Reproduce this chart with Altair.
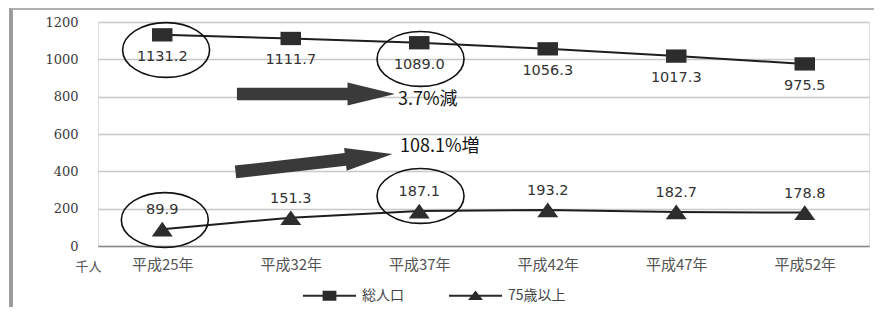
import altair as alt
import pandas as pd

categories = ["平成25年", "平成32年", "平成37年", "平成42年", "平成47年", "平成52年"]
total_pop = [1131.2, 1111.7, 1089.0, 1056.3, 1017.3, 975.5]
over75 = [89.9, 151.3, 187.1, 193.2, 182.7, 178.8]
series_names = ["総人口", "75歳以上"]
y_ticks = [0, 200, 400, 600, 800, 1000, 1200]
unit_label = "千人"

# annotations (circles, arrows, texts) in data coordinates
circle_idx = [0.03, 2.01, 0.02, 2.01]
circle_val = [1050, 1002, 139, 268]
arrow_idx = [1.196, 1.181]
arrow_val = [814, 445]
arrow_angle = [0, 353.5]
note_text = ["3.7%減", "108.1%増"]
note_idx = [1.835, 1.85]
note_val = [782, 530]

rows = []
for i, c in enumerate(categories):
    rows.append({"idx": i, "cat": c, "series": series_names[0], "value": total_pop[i]})
    rows.append({"idx": i, "cat": c, "series": series_names[1], "value": over75[i]})
df = pd.DataFrame(rows)

circles = pd.DataFrame({"idx": circle_idx, "value": circle_val})
arrows = pd.DataFrame({"idx": arrow_idx, "value": arrow_val, "angle": arrow_angle})
notes = pd.DataFrame({"idx": note_idx, "value": note_val, "text": note_text})

W, H = 771, 224
label_expr = "[" + ",".join("'" + c + "'" for c in categories) + "][datum.value]"

x_axis = alt.Axis(values=list(range(len(categories))), labelExpr=label_expr,
                  grid=False, ticks=False, domain=True, domainColor="#8a8a8a",
                  domainWidth=1.5, labelFont="Noto Sans CJK JP", labelFontSize=15,
                  labelColor="#555555", labelPadding=11, title=None)
y_axis = alt.Axis(values=y_ticks, tickCount=len(y_ticks), format="d", labelOverlap=False,
                  grid=True, gridColor="#c8c8c8", gridWidth=1.3,
                  domain=False, ticks=False, labelFont="DejaVu Serif, Liberation Serif, serif",
                  labelFontSize=13, labelColor="#3a3a3a", labelPadding=20,
                  title=unit_label, titleAngle=0, titleAlign="left",
                  titleBaseline="middle", titleX=-23, titleY=244,
                  titleFont="Noto Sans CJK JP", titleFontSize=13,
                  titleFontWeight="normal", titleColor="#555555")
x_scale = alt.Scale(domain=[-0.5, 5.5], nice=False, zero=False)
y_scale = alt.Scale(domain=[0, 1200], nice=False)


def X(field="idx:Q"):
    return alt.X(field, scale=x_scale, axis=x_axis)


def Y(field="value:Q"):
    return alt.Y(field, scale=y_scale, axis=y_axis)


base = alt.Chart(df)

lines = base.mark_line(color="#1e1e1e", strokeWidth=2).encode(x=X(), y=Y(), detail="series:N")

sq_path = "M -1 -0.65 L 1 -0.65 L 1 0.65 L -1 0.65 Z"
tri_path = "M -1 0.7 L 0 -0.7 L 1 0.7 Z"

squares = base.transform_filter(alt.datum.series == series_names[0]).mark_point(
    shape=sq_path, size=420, filled=True, color="#2d2d2d", opacity=1).encode(x=X(), y=Y())
triangles = base.transform_filter(alt.datum.series == series_names[1]).mark_point(
    shape=tri_path, size=441, filled=True, color="#2d2d2d", opacity=1).encode(x=X(), y=Y())

labels_top = base.transform_filter(alt.datum.series == series_names[0]).mark_text(
    dy=22, font="DejaVu Sans", fontSize=14.5, color="#333333").encode(
    x=X(), y=Y(), text=alt.Text("value:Q", format=".1f"))
labels_low = base.transform_filter(alt.datum.series == series_names[1]).mark_text(
    dy=-19, font="DejaVu Sans", fontSize=14.5, color="#333333").encode(
    x=X(), y=Y(), text=alt.Text("value:Q", format=".1f"))

leg_sq = ("M -1 -0.035 L 1 -0.035 L 1 0.035 L -1 0.035 Z "
          "M -0.26 -0.19 L 0.26 -0.19 L 0.26 0.19 L -0.26 0.19 Z")
leg_tri = ("M -1 -0.035 L 1 -0.035 L 1 0.035 L -1 0.035 Z "
           "M -0.28 0.16 L 0 -0.2 L 0.28 0.16 Z")

# legend-only layer: its points sit outside the fixed y domain and are clipped away
legend_layer = base.transform_calculate(hidden="datum.value + 100000").mark_point(
    filled=True, opacity=1, clip=True).encode(
    x=X(), y=Y("hidden:Q"),
    color=alt.Color("series:N", scale=alt.Scale(domain=series_names, range=["#2a2a2a", "#2a2a2a"]),
                    legend=alt.Legend(title=None, orient="none", legendX=204, legendY=246,
                                      direction="horizontal", symbolSize=2809,
                                      labelFont="Noto Sans CJK JP",
                                      labelFontSize=14, labelColor="#444444",
                                      columnPadding=44, labelOffset=5)),
    shape=alt.Shape("series:N", scale=alt.Scale(domain=series_names, range=[leg_sq, leg_tri])),
)

ell_path = ("M -1 0 C -1 -0.348 -0.552 -0.63 0 -0.63 C 0.552 -0.63 1 -0.348 1 0 "
            "C 1 0.348 0.552 0.63 0 0.63 C -0.552 0.63 -1 0.348 -1 0 Z")
ellipses = alt.Chart(circles).mark_point(shape=ell_path, size=7569, filled=False,
                                         color="#111111", strokeWidth=1.6, opacity=1).encode(
    x=X(), y=Y())

arrow_path = "M -1 -0.08 L 0.4 -0.08 L 0.4 -0.145 L 1 0 L 0.4 0.145 L 0.4 0.08 L -1 0.08 Z"
arrow_marks = alt.Chart(arrows).mark_point(shape=arrow_path, size=24964, filled=True,
                                           color="#3a3a3a", opacity=1).encode(
    x=X(), y=Y(), angle=alt.Angle("angle:Q", scale=None))

note_marks = alt.Chart(notes).mark_text(align="left", baseline="middle", font="Noto Sans CJK JP",
                                        fontSize=18, color="#151515").encode(
    x=X(), y=Y(), text="text:N")

frame_left = alt.Chart(df).mark_rule(color="#9a9a9a", strokeWidth=2.5).encode(
    x=alt.value(-87), y=alt.value(-14), y2=alt.value(290))
frame_top = alt.Chart(df).mark_rule(color="#b0b0b0", strokeWidth=1.5).encode(
    x=alt.value(-87), x2=alt.value(776), y=alt.value(-13.5))

chart = alt.layer(frame_left, frame_top, lines, squares, triangles, labels_top, labels_low,
                  ellipses, arrow_marks, note_marks, legend_layer).properties(
    width=W, height=H,
    autosize=alt.AutoSizeParams(type="none"),
    padding={"left": 90, "top": 14, "right": 9, "bottom": 61},
).configure_view(stroke=None).configure(background="white")

chart.save("out.html", embed_options={"renderer": "svg", "actions": False})
